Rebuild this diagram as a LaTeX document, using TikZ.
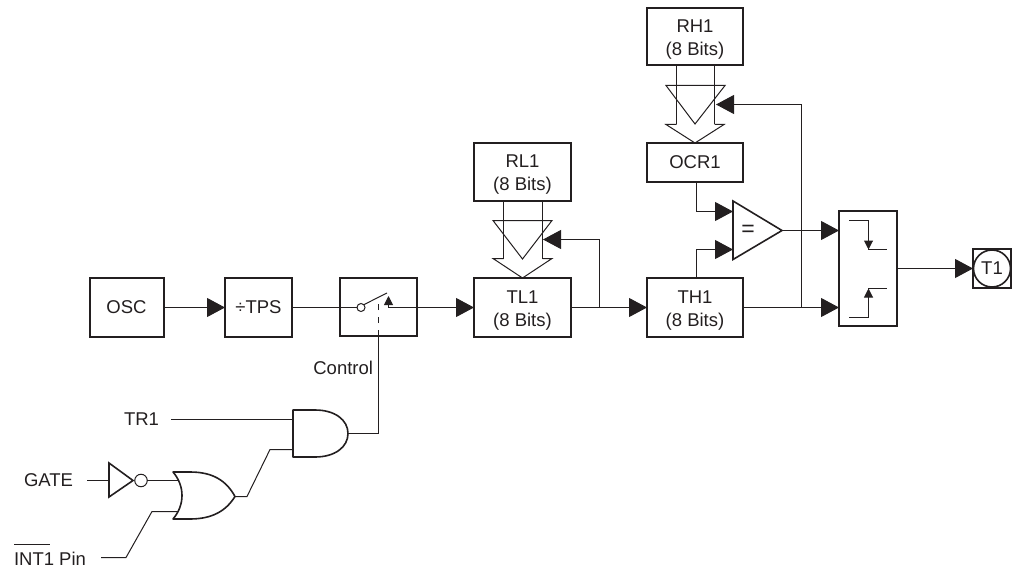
\documentclass[tikz,border=0pt]{standalone}
\usepackage{fontspec}
\setmainfont{Liberation Sans}
\usetikzlibrary{arrows.meta}
\definecolor{ink}{HTML}{231F20}
\tikzset{
  wire/.style={draw=ink,line width=1pt},
  darrow/.style={wire,-{Triangle[length=18pt,width=19pt,color=ink]}},
  sarrow/.style={wire,-{Triangle[length=9pt,width=9pt,color=ink]}},
  heavy/.style={draw=ink,line width=2pt,line join=miter},
  gate/.style={draw=ink,line width=1.6pt,line join=round},
  blockbox/.style={heavy,rectangle,inner sep=0pt,outer sep=0pt,align=center,font=\fontsize{18.5}{23}\selectfont,text=ink},
  lbl/.style={inner sep=0pt,outer sep=0pt,font=\fontsize{18.5}{23}\selectfont,text=ink},
}
\newcommand{\blockat}[6]{\node[blockbox,minimum width=#4 pt,minimum height=#5 pt] (#1) at (#2,#3) {#6};}
\newcommand{\lowstrut}{\rule{0pt}{18pt}}
\begin{document}
\begin{tikzpicture}[x=1pt,y=-1pt]
\useasboundingbox (0,0) rectangle (1014,567);
% blocks
\blockat{osc}{126.5}{307.5}{74}{59}{OSC}
\blockat{tps}{258.5}{307.5}{67}{59}{÷TPS}
\blockat{sw}{378.5}{307}{77}{58}{}
\blockat{tl}{522.5}{307.5}{97}{59}{\lowstrut TL1\\(8 Bits)}
\blockat{rl}{522.5}{172}{97}{58}{\lowstrut RL1\\(8 Bits)}
\blockat{th}{695}{307.5}{96}{59}{\lowstrut TH1\\(8 Bits)}
\blockat{ocr}{695}{162.5}{96}{39}{OCR1}
\blockat{rh}{695}{36.5}{96}{57}{\lowstrut RH1\\(8 Bits)}
\blockat{edge}{868}{268.5}{58}{115}{}
\node[heavy,rectangle,minimum width=38pt,minimum height=39pt,inner sep=0pt,outer sep=0pt] (tsq) at (992,268.5) {};
\node[draw=ink,line width=1.6pt,fill=white,circle,minimum size=37pt,inner sep=0pt,outer sep=0pt,font=\fontsize{18.5}{23}\selectfont,text=ink] (tc) at (992,268.5) {T1};
% main line
\draw[darrow] (osc.east) -- (tps.west);
\coordinate (swr) at (388.5,307.5);
\coordinate (swtip) at (388.5,296);
\node[circle,draw=ink,line width=1pt,minimum size=8pt,inner sep=0pt,outer sep=0pt] (swc) at (361,307.5) {};
\coordinate (blade) at (387,293);
\draw[wire] (tps.east) -- (swc.west);
\draw[wire] (swc.north east) -- (blade);
\draw[sarrow] (swr) -- (swtip);
\draw[darrow] (swr) -- (tl.west);
\draw[darrow] (tl.east) -- (th.west);
% RL1 bus
\coordinate (rlba) at (503.5,201);
\coordinate (rlbb) at (542.5,201);
\coordinate (rlca) at (503.5,258.5);
\coordinate (rlcb) at (542.5,258.5);
\draw[wire] (rlba) -- (rlca);
\draw[wire] (rlbb) -- (rlcb);
\draw[wire,line join=miter] (493,220.5) -- (552,220.5) -- (522.5,259) -- cycle;
\draw[wire,line join=miter] (rlca) -- (493,258.5) -- (522.5,278) -- (552,258.5) -- (rlcb);
\coordinate (jtl) at (599.5,307.5);
\coordinate (rltip) at (543,239.5);
\draw[darrow] (jtl) |- (rltip);
% RH1 bus
\coordinate (rhba) at (676.5,65);
\coordinate (rhbb) at (714.5,65);
\coordinate (rhca) at (676.5,124.5);
\coordinate (rhcb) at (714.5,124.5);
\draw[wire] (rhba) -- (rhca);
\draw[wire] (rhbb) -- (rhcb);
\draw[wire,line join=miter] (666,85.5) -- (725,85.5) -- (695,124) -- cycle;
\draw[wire,line join=miter] (rhca) -- (666,124.5) -- (695,143) -- (724,124.5) -- (rhcb);
\coordinate (jth) at (801.5,307.5);
\coordinate (rhtip) at (716,104.5);
\draw[darrow] (jth) |- (rhtip);
% comparator
\coordinate (cmpa) at (733,211.5);
\coordinate (cmpb) at (733,249.5);
\coordinate (cmpo) at (782,230.5);
\draw[gate,line join=miter] (733,201) -- (cmpo) -- (733,259.5) -- cycle;
\node[lbl,font=\fontsize{23}{23}\selectfont] (eq) at (748,230.5) {=};
\draw[darrow] (ocr.south -| 696.5,0) |- (cmpa);
\draw[darrow] (th.north -| 696.5,0) |- (cmpb);
\draw[darrow] (cmpo) -- (edge.west |- cmpo);
\draw[darrow] (th.east) -- (edge.west |- th.east);
% edge detector inner
\coordinate (fa) at (849,220.5);
\coordinate (fb) at (868.5,220.5);
\coordinate (fc) at (868.5,249.5);
\coordinate (fd) at (887,249.5);
\draw[wire] (fa) -- (fb) -- (fc) -- (fd);
\draw[sarrow] (fb) -- (fc);
\coordinate (ra) at (849,317.5);
\coordinate (rb) at (868.5,317.5);
\coordinate (rc) at (868.5,288.5);
\coordinate (rd) at (887,288.5);
\draw[wire] (ra) -- (rb) -- (rc) -- (rd);
\draw[sarrow] (rb) -- (rc);
\draw[darrow] (edge.east) -- (tsq.west);
% control
\coordinate (andO) at (348,433.5);
\coordinate (ctl) at (378.5,433.5);
\draw[wire] (andO) -- (ctl) -- (sw.south -| ctl);
\draw[wire,dash pattern=on 6.5pt off 6.5pt] (378.5,336) -- (378.5,303);
\node[lbl,anchor=east] (control) at (373,368) {Control};
% AND
\coordinate (andA) at (293,419.5);
\coordinate (andB) at (293,449.5);
\draw[gate] (293,410) -- (315,410) .. controls (335,410) and (348,420) .. (andO) .. controls (348,447) and (335,457) .. (315,457) -- (293,457) -- cycle;
\node[lbl,anchor=east] (tr) at (159,419) {TR1};
\draw[wire] (171,419.5) -- (andA);
\coordinate (lowa) at (270,449.5);
\coordinate (orO) at (235,496.5);
\coordinate (lowb) at (247,496.5);
\draw[wire] (orO) -- (lowb) -- (lowa) -- (andB);
% OR
\draw[gate] (173,472) -- (190,472) .. controls (212,472) and (226,480) .. (orO) .. controls (226,511) and (212,519) .. (190,519) -- (173,519) .. controls (185,505) and (185,486) .. (173,472) -- cycle;
% inverter
\coordinate (inva) at (109,480.5);
\draw[gate,line join=miter] (109,463) -- (133,480.5) -- (109,497) -- cycle;
\node[circle,draw=ink,line width=1pt,minimum size=12.5pt,inner sep=0pt,outer sep=0pt] (bub) at (141,480.5) {};
\node[lbl,anchor=east] (gatelbl) at (73,480) {GATE};
\draw[wire] (87,480.5) -- (inva);
\coordinate (ora) at (179,480.5);
\draw[wire] (bub.east) -- (ora);
% INT1
\node[lbl,anchor=base west] (intlbl) at (14,565) {INT1 Pin};
\coordinate (ola) at (14,544.5);
\coordinate (olb) at (50,544.5);
\draw[wire] (ola) -- (olb);
\coordinate (ia) at (101,557.5);
\coordinate (ib) at (126,557.5);
\coordinate (ic) at (152,511.5);
\coordinate (id) at (178,511.5);
\draw[wire] (ia) -- (ib) -- (ic) -- (id);
\end{tikzpicture}
\end{document}
